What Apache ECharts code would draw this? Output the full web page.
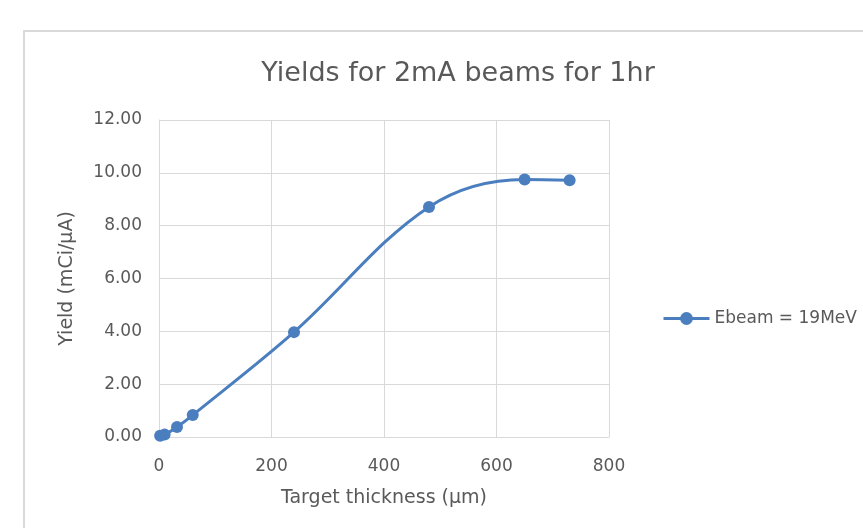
<!DOCTYPE html>
<html><head><meta charset="utf-8">
<script src="https://cdn.jsdelivr.net/npm/echarts@6/dist/echarts.min.js"></script>
<style>html,body{margin:0;padding:0;background:#fff}#c{width:863px;height:528px}</style>
</head><body><div id="c"></div>
<script>
const thickness = [2, 10, 32, 60, 240, 480, 650, 730];
const yields = [0.05, 0.09, 0.38, 0.83, 3.97, 8.71, 9.75, 9.72];
const seriesName = 'Ebeam = 19MeV';
const titleText = 'Yields for 2mA beams for 1hr';
const xName = 'Target thickness (µm)';
const yName = 'Yield (mCi/µA)';

const font = '"DejaVu Sans", "Noto Sans", sans-serif';
const txt = '#595959';
const grid = '#d9d9d9';
const blue = '#4a7ebf';

const chart = echarts.init(document.getElementById('c'));
chart.setOption({
  animation: false,
  graphic: [{
    type: 'rect', shape: {x: 24, y: 31, width: 900, height: 600},
    style: {fill: 'none', stroke: grid, lineWidth: 2}, z: -1
  }],
  title: {
    text: titleText, left: 453, top: 55, textAlign: 'center',
    textStyle: {fontFamily: font, fontSize: 27, fontWeight: 'normal', color: txt}
  },
  legend: {
    left: 662, top: 310, padding: 0, itemWidth: 46, itemHeight: 16, itemGap: 6,
    textStyle: {fontFamily: font, fontSize: 17, color: txt},
    lineStyle: {width: 3, color: blue},
    itemStyle: {color: blue},
    data: [seriesName]
  },
  grid: {left: 159, right: 254, top: 120, bottom: 91, containLabel: false},
  xAxis: {
    type: 'value', min: 0, max: 800, interval: 200,
    name: xName, nameLocation: 'middle', nameGap: 52,
    nameTextStyle: {fontFamily: font, fontSize: 19, color: txt},
    axisLine: {show: true, lineStyle: {color: grid, width: 1}},
    axisTick: {show: false},
    splitLine: {show: true, lineStyle: {color: grid, width: 1}},
    axisLabel: {fontFamily: font, fontSize: 17, color: txt, margin: 21}
  },
  yAxis: {
    type: 'value', min: 0, max: 12, interval: 2,
    name: yName, nameLocation: 'middle', nameGap: 82, nameRotate: 90,
    nameTextStyle: {fontFamily: font, fontSize: 19, color: txt},
    axisLine: {show: true, lineStyle: {color: grid, width: 1}},
    axisTick: {show: false},
    splitLine: {show: true, lineStyle: {color: grid, width: 1}},
    axisLabel: {fontFamily: font, fontSize: 17, color: txt, margin: 17,
      formatter: v => v.toFixed(2)}
  },
  series: [{
    name: seriesName, type: 'line', smooth: 0.35,
    data: thickness.map((t, i) => [t, yields[i]]),
    symbol: 'circle', symbolSize: 12,
    lineStyle: {color: blue, width: 3},
    itemStyle: {color: blue}
  }]
});
</script></body></html>
